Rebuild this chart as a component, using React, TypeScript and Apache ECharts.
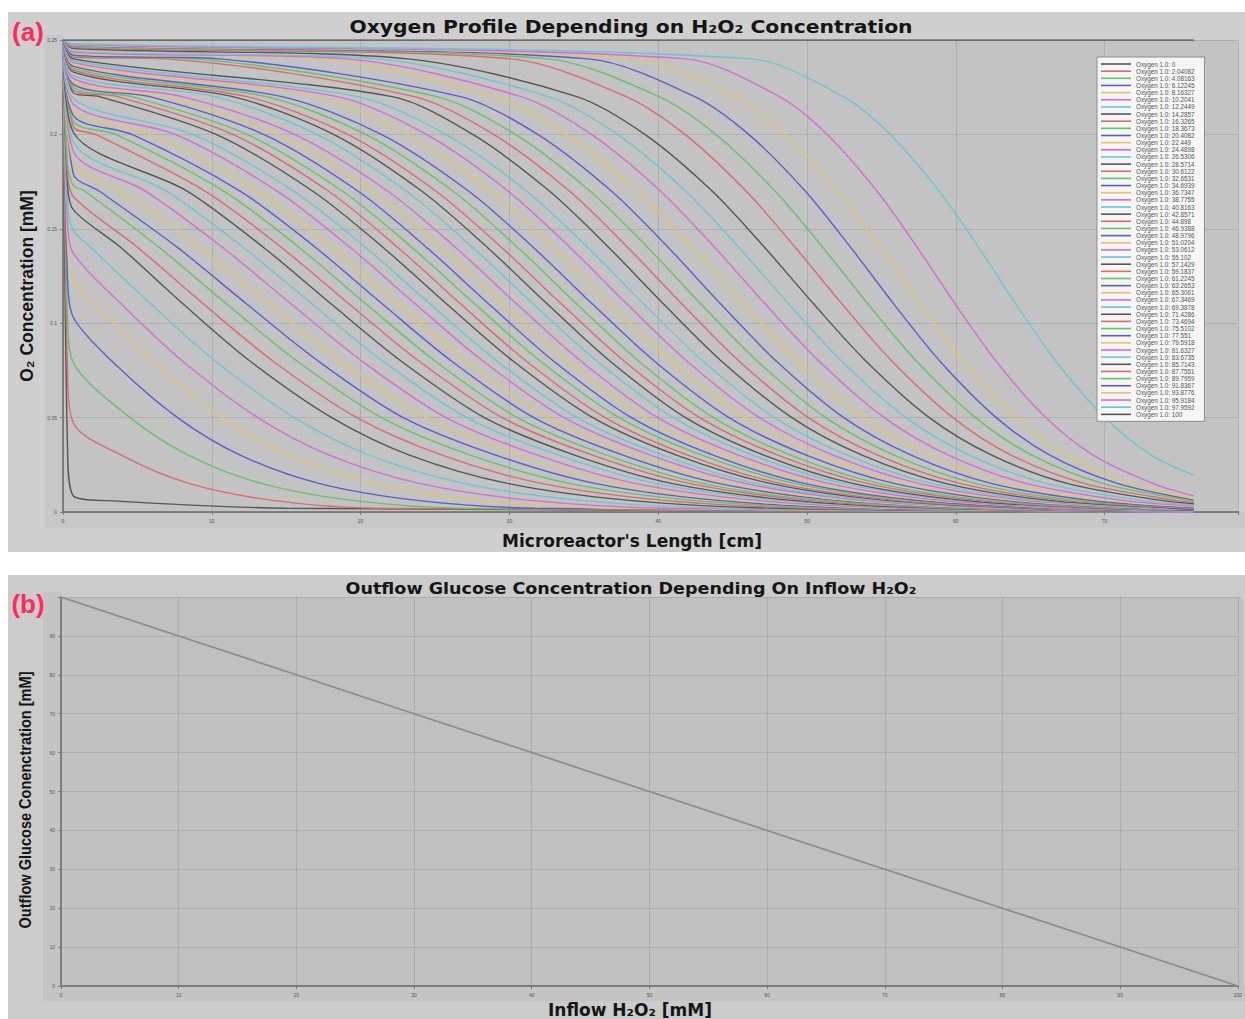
import React, { useEffect, useRef } from 'react';
import * as echarts from 'echarts';

// ---------- DATA ----------
// H2O2 inflow concentration of each simulated oxygen profile (mM)
const H2O2_INFLOW = [
  0, 2.04082, 4.08163, 6.12245, 8.16327, 10.2041, 12.2449, 14.2857, 16.3265, 18.3673,
  20.4082, 22.449, 24.4898, 26.5306, 28.5714, 30.6122, 32.6531, 34.6939, 36.7347, 38.7755,
  40.8163, 42.8571, 44.898, 46.9388, 48.9796, 51.0204, 53.0612, 55.102, 57.1429, 59.1837,
  61.2245, 63.2653, 65.3061, 67.3469, 69.3878, 71.4286, 73.4694, 75.5102, 77.551, 79.5918,
  81.6327, 83.6735, 85.7143, 87.7551, 89.7959, 91.8367, 93.8776, 95.9184, 97.9592, 100,
];

const O2_INLET = 0.25; // mM at x = 0
const DROP_X = 0.3; // cm, point inside the inlet drop
const SHOULDER_X = 0.7; // cm, end of the inlet drop
const REACTOR_END = 76; // cm, last computed position

// O2 levels (mM) at which the crossing position of every profile was read
const O2_LEVELS = [0.24, 0.22, 0.2, 0.17, 0.14, 0.11, 0.08, 0.05, 0.03, 0.015, 0.006, 0.002];

// value inside the inlet drop (only the low profiles have a visible drop)
const DROP_MID = [0.035, 0.077, 0.105, 0.125, 0.142, 0.154, 0.164, 0.1735, 0.1795, 0.1845];

// O2 right after the inlet drop
const SHOULDER = [
  0.0085, 0.047, 0.079, 0.103, 0.123, 0.137, 0.149, 0.16, 0.167, 0.173,
  0.179, 0.185, 0.191, 0.196, 0.201, 0.204, 0.207, 0.21, 0.213, 0.216,
  0.219, 0.222, 0.2235, 0.225, 0.2265, 0.228, 0.2295, 0.231, 0.233, 0.234,
  0.235, 0.236, 0.237, 0.238, 0.239, 0.24, 0.241, 0.2415, 0.242, 0.243,
  0.2435, 0.244, 0.2455, 0.246, 0.2465, 0.247, 0.2472, 0.2475, 0.248, 0.25,
];

const _ = null;
// x (cm) where each profile crosses each O2 level (null: not crossed)
const CROSSINGS: (number | null)[][] = [
  [_, _, _, _, _, _, _, _, _, _, 3.0, 15.0],
  [_, _, _, _, _, _, _, _, 3.95, 8.51, 14.23, 20.92],
  [_, _, _, _, _, _, _, 4.51, 8.45, 13.39, 19.58, 26.83],
  [_, _, _, _, _, _, 3.28, 7.7, 11.94, 17.26, 23.94, 31.74],
  [_, _, _, _, _, 2.11, 5.96, 10.7, 15.24, 20.94, 28.09, 36.45],
  [_, _, _, _, _, 3.93, 8.03, 13.09, 17.94, 24.02, 31.64, 40.56],
  [_, _, _, _, 1.88, 5.92, 10.23, 15.54, 20.63, 27.02, 35.02, 44.39],
  [_, _, _, _, 3.9, 8.1, 12.56, 18.06, 23.33, 29.94, 38.23, 47.93],
  [_, _, _, _, 5.04, 9.47, 14.1, 19.75, 25.53, 32.22, 40.6, 50.42],
  [_, _, _, 1.44, 6.49, 11.02, 15.72, 21.41, 27.43, 34.12, 42.5, 52.32],
  [_, _, _, 2.43, 7.71, 12.37, 17.14, 22.87, 29.13, 35.82, 44.2, 54.02],
  [_, _, _, 3.93, 9.21, 13.87, 18.64, 24.37, 30.63, 37.32, 45.7, 55.52],
  [_, _, _, 5.54, 10.75, 15.36, 20.07, 25.74, 31.93, 38.54, 46.83, 56.53],
  [_, _, _, 6.94, 12.15, 16.76, 21.47, 27.14, 33.33, 39.94, 48.23, 57.93],
  [_, _, _, 8.34, 13.5, 18.05, 22.71, 28.32, 34.43, 40.97, 49.16, 58.75],
  [_, _, 2.19, 9.54, 14.7, 19.25, 23.91, 29.52, 35.63, 42.17, 50.36, 59.95],
  [_, _, 3.53, 10.8, 15.89, 20.39, 25.0, 30.54, 36.58, 43.04, 51.14, 60.62],
  [_, _, 4.63, 11.9, 16.99, 21.49, 26.1, 31.64, 37.68, 44.14, 52.24, 61.72],
  [_, _, 5.87, 13.05, 18.09, 22.53, 27.08, 32.56, 38.53, 44.92, 52.92, 62.29],
  [_, _, 7.54, 14.39, 19.32, 23.7, 28.22, 33.68, 39.53, 45.92, 53.92, 63.29],
  [_, _, 8.72, 15.5, 20.36, 24.69, 29.16, 34.55, 40.33, 46.64, 54.55, 63.81],
  [_, 2.46, 10.28, 16.77, 21.53, 25.81, 30.24, 35.61, 41.28, 47.59, 55.5, 64.76],
  [_, 3.67, 11.41, 17.82, 22.52, 26.75, 31.12, 36.43, 42.03, 48.27, 56.08, 65.22],
  [_, 4.62, 12.36, 18.77, 23.47, 27.7, 32.07, 37.38, 42.98, 49.22, 57.03, 66.17],
  [_, 5.84, 13.48, 19.81, 24.46, 28.64, 32.96, 38.2, 43.74, 49.89, 57.61, 66.64],
  [_, 6.79, 14.43, 20.76, 25.41, 29.59, 33.91, 39.15, 44.69, 50.84, 58.56, 67.59],
  [_, 8.01, 15.56, 21.81, 26.4, 30.52, 34.79, 39.97, 45.44, 51.52, 59.14, 68.06],
  [_, 10.2, 17.06, 23.06, 27.56, 31.63, 35.87, 41.02, 46.39, 52.47, 60.09, 69.01],
  [_, 11.41, 18.18, 24.1, 28.54, 32.57, 36.75, 41.84, 47.14, 53.14, 60.67, 69.48],
  [_, 12.36, 19.13, 25.05, 29.49, 33.52, 37.7, 42.79, 48.09, 54.09, 61.62, 70.43],
  [_, 13.66, 20.34, 26.2, 30.58, 34.55, 38.68, 43.71, 48.94, 54.87, 62.3, 71.0],
  [_, 14.71, 21.39, 27.25, 31.63, 35.6, 39.73, 44.76, 49.99, 55.92, 63.35, 72.05],
  [_, 17.09, 23.16, 28.72, 32.96, 36.84, 40.89, 45.83, 50.89, 56.74, 64.08, 72.66],
  [_, 18.43, 24.42, 29.91, 34.09, 37.92, 41.92, 46.8, 51.79, 57.57, 64.81, 73.28],
  [_, 19.81, 25.73, 31.15, 35.28, 39.05, 43.0, 47.81, 52.74, 58.44, 65.59, 73.95],
  [_, 22.13, 27.54, 32.69, 36.69, 40.38, 44.24, 48.98, 53.74, 59.36, 66.42, 74.67],
  [6.93, 23.61, 28.94, 34.03, 37.97, 41.61, 45.42, 50.09, 54.79, 60.34, 67.3, 75.44],
  [8.69, 25.13, 30.4, 35.41, 39.31, 42.89, 46.65, 51.26, 55.89, 61.36, 68.23, _],
  [10.5, 26.71, 31.9, 36.85, 40.69, 44.22, 47.93, 52.47, 57.04, 62.44, 69.21, _],
  [17.2, 29.07, 33.86, 38.57, 42.29, 45.73, 49.37, 53.83, 58.24, 63.56, 70.24, _],
  [19.09, 30.79, 35.51, 40.15, 43.81, 47.21, 50.8, 55.19, 59.54, 64.79, 71.36, _],
  [21.08, 32.61, 37.25, 41.84, 45.44, 48.79, 52.32, 56.65, 60.95, 66.11, 72.59, _],
  [23.16, 34.53, 39.1, 43.62, 47.17, 50.47, 53.95, 58.22, 62.45, 67.54, 73.92, _],
  [30.14, 37.85, 41.79, 45.9, 49.23, 52.37, 55.7, 59.81, 63.75, 68.69, 74.88, _],
  [32.58, 40.05, 43.87, 47.85, 51.08, 54.12, 57.35, 61.33, 65.15, 69.94, _, _],
  [35.33, 42.45, 46.08, 49.88, 52.95, 55.85, 58.92, 62.72, 66.35, 70.91, _, _],
  [38.5, 45.14, 48.54, 52.08, 54.95, 57.65, 60.52, 64.06, 67.46, 71.71, _, _],
  [41.86, 48.14, 51.35, 54.7, 57.42, 59.98, 62.7, 66.05, 69.26, 73.29, _, _],
  [46.27, 52.44, 55.59, 58.88, 61.55, 64.05, 66.72, 70.01, 73.16, _, _, _],
  [_, _, _, _, _, _, _, _, _, _, _, _],
];

// O2 at the reactor end (x = 76 cm)
const OUTLET = [
  0, 0, 0, 0, 0, 0, 0, 0, 0, 0,
  0, 0, 0, 0.0004, 0.0004, 0.0004, 0.0004, 0.0004, 0.0004, 0.0004,
  0.0004, 0.0007, 0.0007, 0.0007, 0.0007, 0.0007, 0.0007, 0.0007, 0.001, 0.001,
  0.001, 0.001, 0.0015, 0.0015, 0.0015, 0.0015, 0.0019, 0.0021, 0.0023, 0.0027,
  0.0031, 0.0037, 0.0044, 0.0051, 0.0058, 0.0064, 0.007, 0.0085, 0.0195, 0.25,
];

const PALETTE = ['#555555', '#e06868', '#66c266', '#5b5bd4', '#e6c268', '#da68da', '#68c6da'];

// Bottom chart
const INFLOW_H2O2 = [0, 10, 20, 30, 40, 50, 60, 70, 80, 90, 100];
const OUTFLOW_GLUCOSE = [100, 90, 80, 70, 60, 50, 40, 30, 20, 10, 0];

// ---------- LAYOUT ----------
const W = 1245;
const H = 1019;
const GA = { left: 63, top: 40, width: 1175.5, height: 472 };
const GB = { left: 61, top: 597, width: 1182, height: 389 };

const names = H2O2_INFLOW.map((c) => `Oxygen 1.0: ${c}`);

function profile(k: number): number[][] {
  const pts: number[][] = [[0, O2_INLET]];
  if (k < DROP_MID.length) pts.push([DROP_X, DROP_MID[k]]);
  pts.push([SHOULDER_X, SHOULDER[k]]);
  CROSSINGS[k].forEach((x, j) => {
    if (x !== null) pts.push([x, O2_LEVELS[j]]);
  });
  pts.push([REACTOR_END, OUTLET[k]]);
  return pts;
}

function text(x: number, y: number, t: string, font: string, extra: any = {}) {
  return {
    type: 'text',
    x,
    y,
    z: 20,
    rotation: extra.rotation || 0,
    scaleX: extra.scaleX || 1,
    style: {
      text: t,
      font,
      fill: extra.fill || '#151515',
      align: 'center',
      verticalAlign: 'middle',
      textAlign: 'center',
      textVerticalAlign: 'middle',
    },
  };
}

function rect(x: number, y: number, w: number, h: number, fill: string, z = -20) {
  return { type: 'rect', z, silent: true, shape: { x, y, width: w, height: h }, style: { fill } };
}

export default function App() {
  const ref = useRef<HTMLDivElement>(null);
  useEffect(() => {
    if (!ref.current) return;
    const chart = echarts.init(ref.current, undefined, { renderer: 'svg' });

    const series: any[] = H2O2_INFLOW.map((_c, k) => ({
      name: names[k],
      type: 'line',
      xAxisIndex: 0,
      yAxisIndex: 0,
      data: profile(k),
      symbol: 'none',
      smooth: 0.3,
      color: PALETTE[k % 7],
      lineStyle: { width: 1.4, color: PALETTE[k % 7] },
      z: 3,
    }));
    series.push({
      name: 'Outflow Glucose',
      type: 'line',
      xAxisIndex: 1,
      yAxisIndex: 1,
      data: INFLOW_H2O2.map((x, i) => [x, OUTFLOW_GLUCOSE[i]]),
      symbol: 'none',
      lineStyle: { width: 1.6, color: '#8a8a8a' },
      z: 3,
    });

    const gridLine = { show: true, lineStyle: { color: 'rgba(150,150,150,0.45)', width: 1 } };
    const tickLabel = { fontSize: 5, color: '#555', fontFamily: 'Liberation Sans' };
    const axisLine = { show: true, lineStyle: { color: '#6a6a6a', width: 1.5 } };
    const axisTick = { show: true, length: 3, lineStyle: { color: '#777' } };

    chart.setOption({
      animation: false,
      backgroundColor: '#ffffff',
      graphic: [
        rect(8, 12, 1237, 540, '#cfcfcf'),
        rect(8, 575, 1237, 444, '#cbcbcb'),
        rect(45, 35, 18, 493, '#c7c7c7', -19),
        rect(45, 512, 1200, 16, '#c7c7c7', -19),
        rect(GA.left, GA.top, GA.width, GA.height, '#c3c3c3', -18),
        rect(43, 592, 18, 409, '#c4c4c4', -19),
        rect(43, 986, 1202, 15, '#c4c4c4', -19),
        rect(GB.left, GB.top, GB.width, GB.height, '#c0c0c0', -18),
        text(28, 32, '(a)', 'bold 26px "Liberation Sans", Arial, sans-serif', { fill: '#ff2a5c' }),
        text(28, 604, '(b)', 'bold 26px "Liberation Sans", Arial, sans-serif', { fill: '#ff2a5c' }),
        text(631, 27, 'Oxygen Profile Depending on H₂O₂ Concentration', 'bold 18px "DejaVu Sans", sans-serif', {
          scaleX: 1.13,
        }),
        text(632, 541, "Microreactor's Length [cm]", 'bold 17px "DejaVu Sans", sans-serif'),
        text(27, 286, 'O₂ Concentration [mM]', 'bold 17.5px "Liberation Sans", "DejaVu Sans", sans-serif', {
          rotation: Math.PI / 2,
        }),
        text(631, 589, 'Outflow Glucose Concentration Depending On Inflow H₂O₂', 'bold 15px "DejaVu Sans", sans-serif', {
          scaleX: 1.17,
        }),
        text(630, 1010, 'Inflow H₂O₂ [mM]', 'bold 17px "DejaVu Sans", sans-serif'),
        text(25, 800, 'Outflow Glucose Conenctration [mM]', 'bold 16px "Liberation Sans", "DejaVu Sans", sans-serif', {
          rotation: Math.PI / 2,
          scaleX: 0.91,
        }),
      ],
      legend: {
        data: names,
        orient: 'vertical',
        left: 1097,
        top: 57,
        icon: 'rect',
        itemWidth: 30,
        itemHeight: 1.6,
        itemGap: 1.15,
        padding: [4, 10, 4, 4],
        backgroundColor: '#f6f6f6',
        borderColor: '#8c8c8c',
        borderWidth: 1,
        selectedMode: false,
        textStyle: { fontSize: 6.3, lineHeight: 6, color: '#555', fontFamily: 'Liberation Sans' },
      },
      grid: [
        { ...GA, containLabel: false },
        { ...GB, containLabel: false },
      ],
      xAxis: [
        {
          type: 'value',
          gridIndex: 0,
          min: 0,
          max: 79,
          interval: 10,
          offset: 3,
          axisLine,
          axisTick,
          axisLabel: { ...tickLabel, margin: 3, formatter: (v: number) => (v % 10 === 0 ? String(v) : '') },
          splitLine: gridLine,
        },
        {
          type: 'value',
          gridIndex: 1,
          min: 0,
          max: 100,
          interval: 10,
          offset: 3,
          axisLine,
          axisTick,
          axisLabel: { ...tickLabel, margin: 3 },
          splitLine: gridLine,
        },
      ],
      yAxis: [
        {
          type: 'value',
          gridIndex: 0,
          min: 0,
          max: 0.25,
          interval: 0.05,
          offset: 3,
          axisLine,
          axisTick,
          axisLabel: { ...tickLabel, margin: 3 },
          splitLine: gridLine,
        },
        {
          type: 'value',
          gridIndex: 1,
          min: 0,
          max: 100,
          interval: 10,
          offset: 3,
          axisLine,
          axisTick,
          axisLabel: {
            ...tickLabel,
            margin: 3,
            formatter: (v: number) => (v >= 100 ? '' : String(v)),
          },
          splitLine: gridLine,
        },
      ],
      series,
    });
    return () => chart.dispose();
  }, []);

  return (
    <div
      ref={ref}
      style={{ position: 'absolute', left: 0, top: 0, width: W, height: H }}
    />
  );
}
